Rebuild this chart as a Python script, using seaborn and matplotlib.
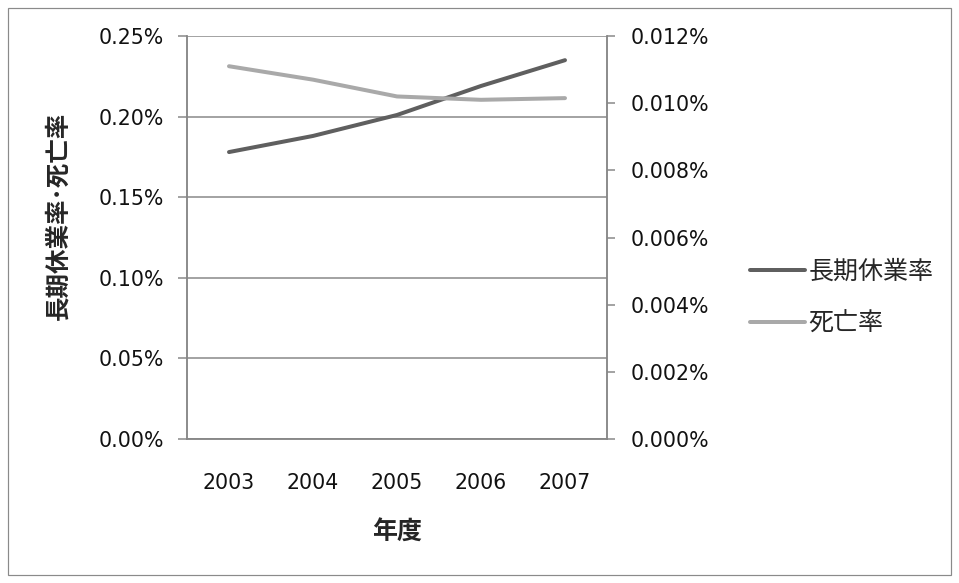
import matplotlib
matplotlib.use("Agg")
import matplotlib.pyplot as plt
from matplotlib.patches import Rectangle
from matplotlib.ticker import FuncFormatter, MultipleLocator
import seaborn as sns
import pandas as pd

# Fiscal years and rates (values in percent)
years = ["2003", "2004", "2005", "2006", "2007"]
leave_rate = [0.178, 0.188, 0.201, 0.219, 0.235]        # 長期休業率 (left axis)
death_rate = [0.0111, 0.0107, 0.0102, 0.0101, 0.01015]  # 死亡率 (right axis)
series_names = ["長期休業率", "死亡率"]

sns.set_theme(style="white")
plt.rcParams["font.family"] = ["DejaVu Sans", "Noto Sans CJK JP"]

DPI = 72
W, H = 959, 583
fig = plt.figure(figsize=(W / DPI, H / DPI), dpi=DPI)

L, R, T, B = 187, 607, 36, 439
ax = fig.add_axes([L / W, 1 - B / H, (R - L) / W, (B - T) / H])
ax2 = ax.twinx()

df = pd.DataFrame({"year": range(len(years)), "leave": leave_rate, "death": death_rate})

grid_c = "#878787"
dark_c = "#5f5f5f"
light_c = "#a9a9a9"
text_c = "#111111"

sns.lineplot(data=df, x="year", y="leave", ax=ax, color=dark_c, linewidth=4,
             label=series_names[0], legend=False)
sns.lineplot(data=df, x="year", y="death", ax=ax2, color=light_c, linewidth=4,
             label=series_names[1], legend=False)

ax.set_xlim(-0.5, len(years) - 0.5)
ax.set_ylim(0, 0.25)
ax2.set_ylim(0, 0.012)
ax.yaxis.set_major_locator(MultipleLocator(0.05))
ax2.yaxis.set_major_locator(MultipleLocator(0.002))
ax.yaxis.set_major_formatter(FuncFormatter(lambda v, p: f"{v:.2f}%"))
ax2.yaxis.set_major_formatter(FuncFormatter(lambda v, p: f"{v:.3f}%"))
ax.set_xticks(range(len(years)))
ax.set_xticklabels(years)

ax.grid(axis="y", color=grid_c, linewidth=1.5)
ax.grid(axis="x", visible=False)
ax2.grid(False)
ax.set_axisbelow(True)

for a in (ax, ax2):
    for s in a.spines.values():
        s.set_color(grid_c)
        s.set_linewidth(1.5)
    a.spines["top"].set_visible(False)
    a.set_xlabel("")
    a.set_ylabel("")

ax.tick_params(axis="y", which="major", left=True, length=9, width=1.5, color=grid_c,
               pad=14, labelsize=20.5, labelcolor=text_c)
ax2.tick_params(axis="y", which="major", right=True, length=8, width=1.5, color=grid_c,
                pad=16, labelsize=20.5, labelcolor=text_c)
ax.tick_params(axis="x", length=0, pad=34, labelsize=20.5, labelcolor=text_c)

cjk = ["Noto Sans CJK JP", "DejaVu Sans"]
fig.text(58 / W, 1 - 216 / H, "長期休業率･死亡率", rotation=90, ha="center", va="center",
         fontsize=24.5, fontweight="bold", family=cjk)
fig.text(397 / W, 1 - 533 / H, "年度", ha="center", va="center",
         fontsize=25, fontweight="bold", family=cjk)

h1, l1 = ax.get_legend_handles_labels()
h2, l2 = ax2.get_legend_handles_labels()
fig.legend(h1 + h2, l1 + l2, loc="upper left", bbox_to_anchor=(750 / W, 1 - 259 / H),
           frameon=False, prop={"family": cjk, "size": 25}, handlelength=2.2,
           handletextpad=0.15, labelspacing=1.03, borderpad=0, borderaxespad=0)

fig.patches.append(Rectangle((8 / W, 1 - 575 / H), (951 - 8) / W, (575 - 8) / H,
                             transform=fig.transFigure, fill=False,
                             edgecolor="#8a8a8a", linewidth=1.2))

fig.savefig("out.png", dpi=DPI)
